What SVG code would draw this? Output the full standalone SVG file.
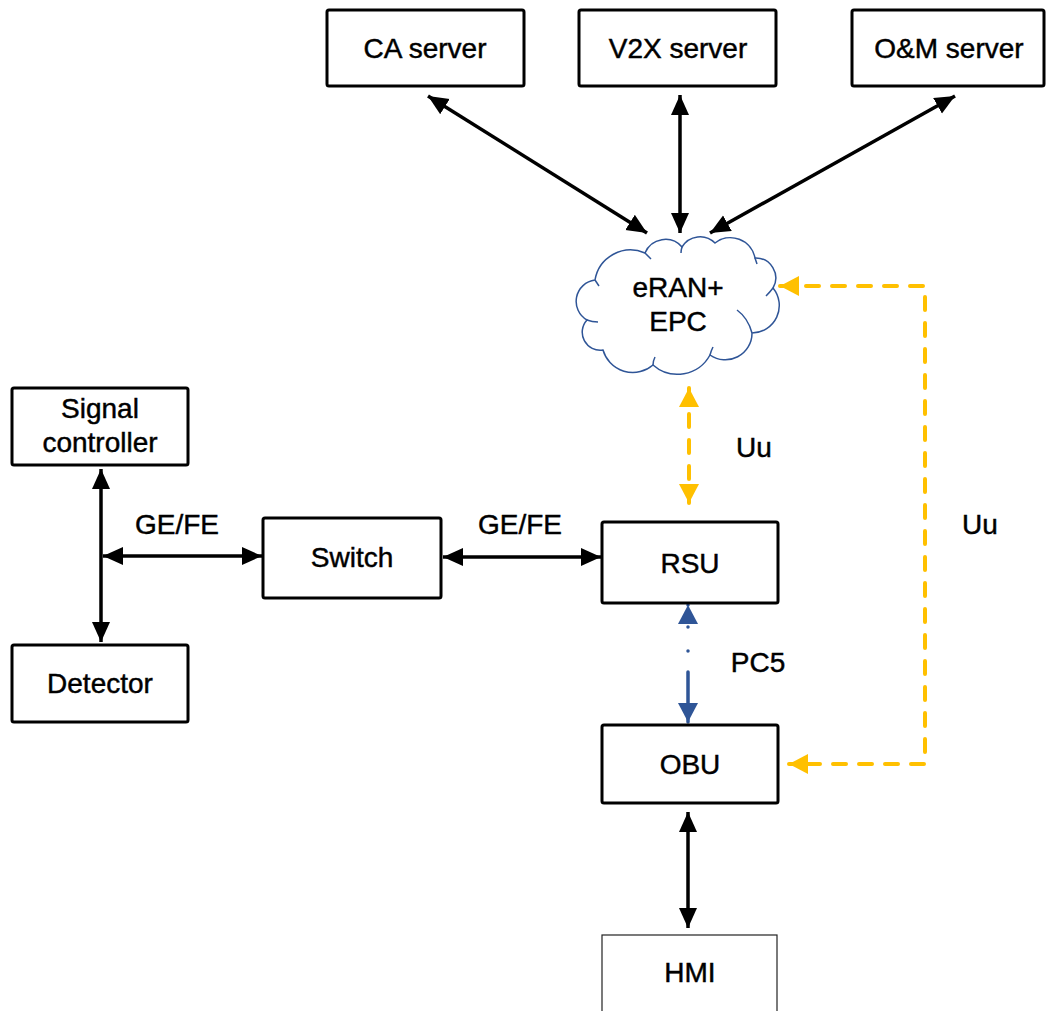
<svg xmlns="http://www.w3.org/2000/svg" width="1048" height="1011" viewBox="0 0 1048 1011">
<style>
.box{fill:#fff;stroke:#000;stroke-width:3}
.thin{fill:#fff;stroke:#222;stroke-width:1.2}
.t{font-family:"Liberation Sans",Arial,sans-serif;font-size:28px;fill:#000;stroke:#000;stroke-width:0.45;text-anchor:middle}
.c{fill:none;stroke:#000;stroke-width:3.5}
.u{fill:none;stroke:#FFC000;stroke-width:4;stroke-dasharray:13 13;stroke-linecap:round}
.p{fill:none;stroke:#2F5597;stroke-width:3.5;stroke-linecap:round}
.cl{fill:none;stroke:#2F5597;stroke-width:1.5}
</style>
<defs>
<marker id="ak" markerUnits="userSpaceOnUse" markerWidth="22" markerHeight="20" refX="20" refY="9" orient="auto-start-reverse"><path d="M0,0 L20,9 L0,18 Z" fill="#000"/></marker>
<marker id="ao" markerUnits="userSpaceOnUse" markerWidth="22" markerHeight="22" refX="19" refY="10" orient="auto-start-reverse"><path d="M0,0 L19,10 L0,20 Z" fill="#FFC000"/></marker>
<marker id="ab" markerUnits="userSpaceOnUse" markerWidth="22" markerHeight="22" refX="19" refY="10" orient="auto-start-reverse"><path d="M0,0 L19,10 L0,20 Z" fill="#2F5597"/></marker>
</defs>
<rect width="1048" height="1011" fill="#fff"/>
<g id="connectors">
<line class="c" x1="428" y1="96" x2="647" y2="233" marker-start="url(#ak)" marker-end="url(#ak)"/>
<line class="c" x1="680" y1="95" x2="680" y2="233" marker-start="url(#ak)" marker-end="url(#ak)"/>
<line class="c" x1="955" y1="96" x2="710" y2="233" marker-start="url(#ak)" marker-end="url(#ak)"/>
<line class="c" x1="101" y1="469" x2="101" y2="642" marker-start="url(#ak)" marker-end="url(#ak)"/>
<line class="c" x1="103" y1="556" x2="262" y2="556" marker-start="url(#ak)" marker-end="url(#ak)"/>
<line class="c" x1="443" y1="557" x2="601" y2="557" marker-start="url(#ak)" marker-end="url(#ak)"/>
<line class="c" x1="688" y1="812" x2="688" y2="928" marker-start="url(#ak)" marker-end="url(#ak)"/>
<line class="u" x1="689" y1="388" x2="689" y2="503" marker-start="url(#ao)" marker-end="url(#ao)"/>
<path class="u" d="M780,286 H925 V764 H789" marker-start="url(#ao)" marker-end="url(#ao)"/>
<line class="p" x1="688" y1="605" x2="688" y2="722" stroke-dasharray="0 22 0 24 0 21 50 100" marker-start="url(#ab)" marker-end="url(#ab)"/>
<text class="t" x="177" y="534">GE/FE</text>
<text class="t" x="520" y="534">GE/FE</text>
<text class="t" x="754" y="457">Uu</text>
<text class="t" x="980" y="534">Uu</text>
<text class="t" x="758" y="672">PC5</text>
</g>
<g id="ca"><rect class="box" x="327" y="10" width="197" height="76" rx="2"/><text class="t" x="425" y="58">CA server</text></g>
<g id="v2x"><rect class="box" x="579" y="10" width="197" height="76" rx="2"/><text class="t" x="678" y="58">V2X server</text></g>
<g id="om"><rect class="box" x="852" y="10" width="192" height="76" rx="2"/><text class="t" x="949" y="58">O&amp;M server</text></g>
<g id="cloud">
<path class="cl" fill="#fff" style="fill:#fff" d="M595,280 A21.5,21.5 0 0 0 587,320 A18,18 0 0 0 603,350 A31,31 0 0 0 653,365 A37,37 0 0 0 710,355 A26.7,26.7 0 0 0 752,333 A27.5,27.5 0 0 0 773,288 A20,20 0 0 0 755,258 A25,25 0 0 0 715,243 A21,21 0 0 0 682,247 A22,22 0 0 0 645,253 A36,36 0 0 0 595,280 Z"/>
<path class="cl" d="M587,320 Q592,322 598,322 M653,365 Q653,361 655,357 M710,355 Q711,351 713,347 M752,333 Q748,318 737,310 M773,288 Q770,292 766,296 M755,258 Q756,261 757,264 M645,253 Q648,256 651,259 M595,280 Q597,283 599,286 M682,247 Q681,250 681,253"/>
<text class="t" x="678" y="297">eRAN+</text>
<text class="t" x="678" y="331">EPC</text>
</g>
<g id="signal"><rect class="box" x="12" y="388" width="176" height="77" rx="2"/><text class="t" x="100" y="418">Signal</text><text class="t" x="100" y="452">controller</text></g>
<g id="detector"><rect class="box" x="12" y="645" width="176" height="77" rx="2"/><text class="t" x="100" y="693">Detector</text></g>
<g id="switch"><rect class="box" x="263" y="518" width="178" height="80" rx="2"/><text class="t" x="352" y="567">Switch</text></g>
<g id="rsu"><rect class="box" x="602" y="522" width="176" height="81" rx="2"/><text class="t" x="690" y="573">RSU</text></g>
<g id="obu"><rect class="box" x="602" y="725" width="176" height="78" rx="2"/><text class="t" x="690" y="774">OBU</text></g>
<g id="hmi"><rect class="thin" x="602" y="935" width="175" height="90"/><text class="t" x="690" y="982">HMI</text></g>
</svg>
